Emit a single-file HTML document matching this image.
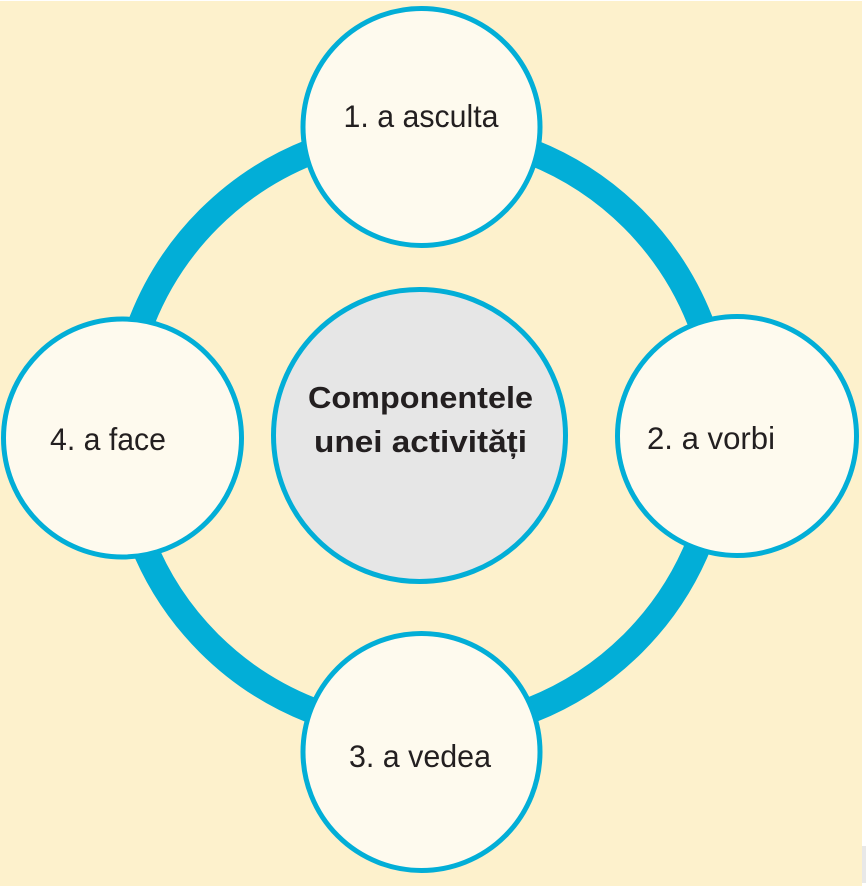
<!DOCTYPE html>
<html>
<head>
<meta charset="utf-8">
<style>
  html, body { margin: 0; padding: 0; background: #ffffff; }
  svg { display: block; }
  text { font-family: "Liberation Sans", "DejaVu Sans", sans-serif; fill: #231F20; }
</style>
</head>
<body>
<svg width="866" height="886" viewBox="0 0 866 886" xmlns="http://www.w3.org/2000/svg">
  <!-- background -->
  <rect x="0" y="0" width="866" height="886" fill="#ffffff"/>
  <rect x="0" y="1" width="862" height="885" fill="#FDF1CC"/>
  <rect x="862" y="846" width="4" height="37" fill="#E8E8E8"/>

  <!-- big ring -->
  <circle cx="421" cy="431" r="300" fill="none" stroke="#02AED7" stroke-width="26"/>

  <!-- center circle -->
  <circle cx="419.5" cy="435.5" r="146" fill="#E6E6E6" stroke="#02AED7" stroke-width="5"/>

  <!-- outer circles -->
  <circle cx="421.5" cy="127" r="118.5" fill="#FEFAEE" stroke="#02AED7" stroke-width="5"/>
  <circle cx="737" cy="436" r="119.5" fill="#FEFAEE" stroke="#02AED7" stroke-width="5"/>
  <circle cx="421.5" cy="752" r="118.5" fill="#FEFAEE" stroke="#02AED7" stroke-width="5"/>
  <circle cx="122.5" cy="438" r="119" fill="#FEFAEE" stroke="#02AED7" stroke-width="5"/>

  <!-- labels -->
  <text x="343.5" y="127" font-size="31.5" textLength="155" lengthAdjust="spacingAndGlyphs">1. a asculta</text>
  <text x="647" y="449" font-size="31.5" textLength="128" lengthAdjust="spacingAndGlyphs">2. a vorbi</text>
  <text x="349" y="767" font-size="31.5" textLength="142" lengthAdjust="spacingAndGlyphs">3. a vedea</text>
  <text x="50" y="450" font-size="31.5" textLength="116" lengthAdjust="spacingAndGlyphs">4. a face</text>

  <text x="308" y="408" font-size="31" font-weight="bold" textLength="225" lengthAdjust="spacingAndGlyphs">Componentele</text>
  <text x="314" y="452" font-size="31" font-weight="bold" textLength="213" lengthAdjust="spacingAndGlyphs">unei activități</text>
</svg>
</body>
</html>
